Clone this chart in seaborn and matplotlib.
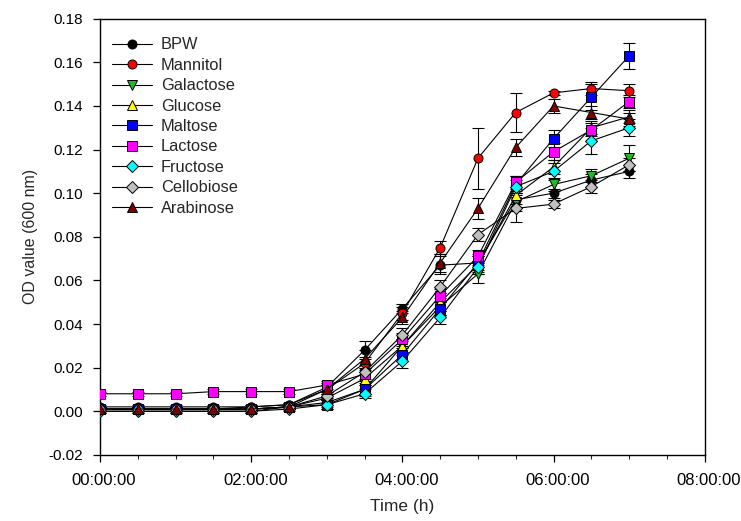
import numpy as np
import pandas as pd
import matplotlib
matplotlib.use("Agg")
import matplotlib.pyplot as plt
import matplotlib.transforms as mtransforms
import seaborn as sns

# ---- data ----
hours = [0, 0.5, 1, 1.5, 2, 2.5, 3, 3.5, 4, 4.5, 5, 5.5, 6, 6.5, 7]
series_names = ["BPW", "Mannitol", "Galactose", "Glucose", "Maltose",
                "Lactose", "Fructose", "Cellobiose", "Arabinose"]

bpw        = [0.002, 0.002, 0.002, 0.002, 0.002, 0.003, 0.011, 0.028, 0.047, 0.067, 0.068, 0.097, 0.100, 0.106, 0.110]
mannitol   = [0.001, 0.001, 0.001, 0.001, 0.002, 0.003, 0.010, 0.022, 0.045, 0.075, 0.116, 0.137, 0.146, 0.148, 0.147]
galactose  = [0.000, 0.000, 0.000, 0.000, 0.000, 0.002, 0.004, 0.010, 0.030, 0.048, 0.063, 0.096, 0.104, 0.108, 0.116]
glucose    = [0.001, 0.001, 0.001, 0.001, 0.001, 0.002, 0.006, 0.015, 0.030, 0.050, 0.067, 0.099, 0.112, 0.130, 0.135]
maltose    = [0.001, 0.001, 0.001, 0.001, 0.001, 0.002, 0.003, 0.010, 0.026, 0.047, 0.068, 0.104, 0.125, 0.144, 0.163]
lactose    = [0.008, 0.008, 0.008, 0.009, 0.009, 0.009, 0.012, 0.017, 0.033, 0.053, 0.071, 0.105, 0.119, 0.129, 0.142]
fructose   = [0.000, 0.000, 0.000, 0.000, 0.000, 0.001, 0.003, 0.008, 0.023, 0.043, 0.066, 0.103, 0.110, 0.124, 0.130]
cellobiose = [0.001, 0.001, 0.001, 0.001, 0.001, 0.002, 0.007, 0.018, 0.035, 0.057, 0.081, 0.093, 0.095, 0.103, 0.113]
arabinose  = [0.001, 0.001, 0.001, 0.001, 0.001, 0.002, 0.010, 0.024, 0.043, 0.068, 0.093, 0.121, 0.140, 0.137, 0.134]

bpw_err        = [0.001, 0.001, 0.001, 0.001, 0.001, 0.001, 0.002, 0.004, 0.002, 0.004, 0.004, 0.004, 0.002, 0.003, 0.003]
mannitol_err   = [0.001, 0.001, 0.001, 0.001, 0.001, 0.001, 0.002, 0.003, 0.003, 0.003, 0.014, 0.009, 0.001, 0.003, 0.003]
galactose_err  = [0.001, 0.001, 0.001, 0.001, 0.001, 0.001, 0.002, 0.003, 0.003, 0.004, 0.004, 0.004, 0.003, 0.003, 0.006]
glucose_err    = [0.001, 0.001, 0.001, 0.001, 0.001, 0.001, 0.002, 0.003, 0.003, 0.004, 0.004, 0.004, 0.003, 0.003, 0.003]
maltose_err    = [0.001, 0.001, 0.001, 0.001, 0.001, 0.001, 0.002, 0.002, 0.003, 0.003, 0.003, 0.004, 0.004, 0.006, 0.006]
lactose_err    = [0.001, 0.001, 0.001, 0.001, 0.001, 0.001, 0.002, 0.003, 0.003, 0.003, 0.003, 0.003, 0.004, 0.003, 0.003]
fructose_err   = [0.001, 0.001, 0.001, 0.001, 0.001, 0.001, 0.002, 0.002, 0.003, 0.003, 0.003, 0.003, 0.004, 0.006, 0.004]
cellobiose_err = [0.001, 0.001, 0.001, 0.001, 0.001, 0.001, 0.002, 0.003, 0.003, 0.003, 0.003, 0.006, 0.002, 0.003, 0.003]
arabinose_err  = [0.001, 0.001, 0.001, 0.001, 0.001, 0.001, 0.002, 0.004, 0.003, 0.004, 0.005, 0.004, 0.003, 0.003, 0.003]

x_tick_values = [0, 2, 4, 6, 8]
x_tick_labels = ["00:00:00", "02:00:00", "04:00:00", "06:00:00", "08:00:00"]
y_tick_values = [-0.02, 0.00, 0.02, 0.04, 0.06, 0.08, 0.10, 0.12, 0.14, 0.16, 0.18]

values = [bpw, mannitol, galactose, glucose, maltose, lactose, fructose, cellobiose, arabinose]
errors = [bpw_err, mannitol_err, galactose_err, glucose_err, maltose_err,
          lactose_err, fructose_err, cellobiose_err, arabinose_err]

# ---- styles ----
face_colors = ["#000000", "#ff0000", "#22bb22", "#ffff00", "#0000ff",
               "#ff00ff", "#00ffff", "#c0c0c0", "#800000"]
marker_shapes = ["o", "o", "v", "^", "s", "s", "D", "D", "^"]
marker_sizes = [6.5, 6.5, 7, 7, 6.5, 6.5, 6.5, 6.5, 7]

sns.set_theme(style="ticks")
plt.rcParams["font.family"] = ["Liberation Sans", "DejaVu Sans"]

fig = plt.figure(figsize=(7.41, 5.21), dpi=100)
ax = fig.add_axes([0.135, 0.127, 0.816, 0.837])

for name, vals, errs, fc, mk, ms in zip(series_names, values, errors,
                                        face_colors, marker_shapes, marker_sizes):
    df = pd.DataFrame({"hour": hours, "od": vals})
    ax.errorbar(hours, vals, yerr=errs, fmt="none", ecolor="black",
                elinewidth=0.8, capsize=4, capthick=0.8, zorder=2)
    sns.lineplot(data=df, x="hour", y="od", ax=ax, color="black", linewidth=0.8,
                 marker=mk, markersize=ms, markerfacecolor=fc,
                 markeredgecolor="black", markeredgewidth=0.7,
                 label=name, zorder=3)

ax.set_xlim(0, 8)
ax.set_ylim(-0.02, 0.18)
ax.set_xticks(x_tick_values)
ax.set_xticklabels(x_tick_labels)
ax.set_xticks(np.arange(0, 8.01, 0.5), minor=True)
ax.set_yticks(y_tick_values)
ax.set_yticklabels([f"{v:.2f}" for v in y_tick_values])

ax.tick_params(axis="both", which="major", direction="out", length=5, width=0.9,
               colors="black", top=False, right=False)
ax.tick_params(axis="y", which="major", labelsize=11, pad=7)
ax.tick_params(axis="x", which="major", labelsize=12, pad=8)
ax.tick_params(axis="x", which="minor", direction="out", length=3, width=0.8,
               top=False)

shift = mtransforms.ScaledTranslation(4 / 100, 0, fig.dpi_scale_trans)
for lbl in ax.get_xticklabels():
    lbl.set_transform(lbl.get_transform() + shift)

for side in ["top", "right", "left", "bottom"]:
    ax.spines[side].set_visible(True)
    ax.spines[side].set_color("black")
    ax.spines[side].set_linewidth(1.0)

ax.set_xlabel("Time (h)", fontsize=12.5, labelpad=8)
ax.set_ylabel("OD value (600 nm)", fontsize=11.5, labelpad=8)
ax.grid(False)

leg = ax.legend(loc="upper left", bbox_to_anchor=(-0.004, 0.991), frameon=False,
                fontsize=11.8, handlelength=2.4, labelspacing=0.33,
                borderaxespad=0.5, handletextpad=0.55)

fig.savefig("out.png", dpi=100)
